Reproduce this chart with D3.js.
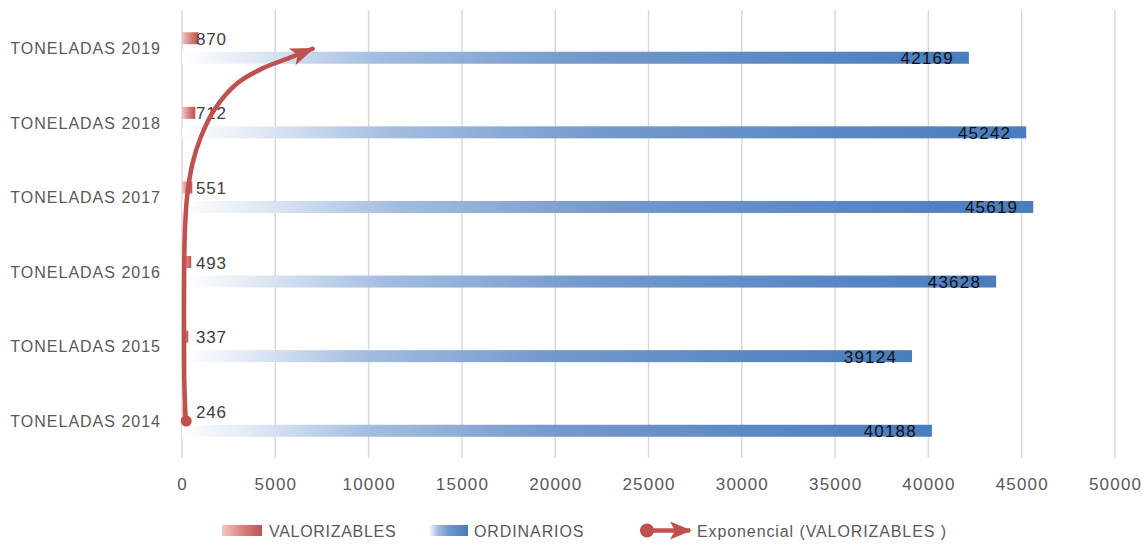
<!DOCTYPE html>
<html><head><meta charset="utf-8">
<script src="https://cdn.jsdelivr.net/npm/d3@7"></script>
<style>body{margin:0;background:#fff;} svg{display:block;}</style>
</head><body>
<svg id="c" width="1145" height="544"></svg>
<script>
const categories = ["TONELADAS 2019","TONELADAS 2018","TONELADAS 2017","TONELADAS 2016","TONELADAS 2015","TONELADAS 2014"];
const years = [2019,2018,2017,2016,2015,2014];
const valorizables = [870,712,551,493,337,246];
const ordinarios = [42169,45242,45619,43628,39124,40188];
const xTicks = [0,5000,10000,15000,20000,25000,30000,35000,40000,45000,50000];
const seriesNames = ["VALORIZABLES","ORDINARIOS","Exponencial (VALORIZABLES )"];
// trend curve: [year position, value]
const trendPoints = [[2014,200],[2014.5,125],[2015,110],[2016,115],[2016.5,150],[2017,270],[2017.45,560],[2017.8,1000],[2018.16,1700],[2018.52,2930],[2018.73,4340],[2018.87,5790],[2018.99,7000]];

const svg = d3.select("#c");
const red = "#c0504d", blue = "#4a7dbd", grid = "#d9d9d9", txt = "#595959";
const font = "Liberation Sans, Arial, sans-serif";
const x = d3.scaleLinear().domain([0,50000]).range([182,1115]);
const y = d3.scaleBand().domain(categories).range([10.7,458.3]);
const yc = c => y(c) + y.bandwidth()/2;
const yPos = d3.scaleLinear().domain([2014,2019]).range([yc(categories[5]), yc(categories[0])]);
const barH = 12, off = 9.75;

const defs = svg.append("defs");
const gb = defs.append("linearGradient").attr("id","gBlue").attr("x1","0").attr("x2","1").attr("y1","0").attr("y2","0");
[[0,"#ffffff"],[0.08,"#e4ecf6"],[0.25,"#a3bde0"],[0.5,"#7499cc"],[0.8,"#5887c3"],[1,"#4a7dbd"]].forEach(s=>gb.append("stop").attr("offset",s[0]).attr("stop-color",s[1]));
const gr = defs.append("linearGradient").attr("id","gRed").attr("x1","0").attr("x2","1").attr("y1","0").attr("y2","0");
[[0,"#f0c6c4"],[0.5,"#d98582"],[1,"#c0504d"]].forEach(s=>gr.append("stop").attr("offset",s[0]).attr("stop-color",s[1]));
defs.append("marker").attr("id","arrow").attr("markerUnits","userSpaceOnUse")
  .attr("viewBox","0 0 24 18").attr("markerWidth",24).attr("markerHeight",18)
  .attr("refX",22).attr("refY",9).attr("orient","auto")
  .append("path").attr("d","M0,0 L24,9 L0,18 L6,9 Z").attr("fill",red);
defs.append("marker").attr("id","arrowL").attr("markerUnits","userSpaceOnUse")
  .attr("viewBox","0 0 22 18").attr("markerWidth",22).attr("markerHeight",18)
  .attr("refX",20).attr("refY",9).attr("orient","auto")
  .append("path").attr("d","M0,0 L22,9 L0,18 L5,9 Z").attr("fill",red);

// gridlines
svg.append("g").selectAll("line").data(xTicks).join("line")
  .attr("x1",d=>x(d)).attr("x2",d=>x(d)).attr("y1",10).attr("y2",458)
  .attr("stroke",grid).attr("stroke-width",1.5);

// tick labels
svg.append("g").selectAll("text").data(xTicks).join("text")
  .attr("x",d=>x(d)+0.6).attr("y",490).attr("text-anchor","middle")
  .attr("font-family",font).attr("font-size",17)
  .attr("letter-spacing",1.2).attr("fill",txt).text(d=>d);

// category labels
svg.append("g").selectAll("text").data(categories).join("text")
  .attr("x",161).attr("y",d=>yc(d)+6).attr("text-anchor","end")
  .attr("font-family",font).attr("font-size",16)
  .attr("letter-spacing",1.0).attr("fill",txt).text(d=>d);

// blue bars
svg.append("g").selectAll("rect").data(ordinarios).join("rect")
  .attr("x",x(0)).attr("width",d=>x(d)-x(0))
  .attr("y",(d,i)=>yc(categories[i])+off-barH/2).attr("height",barH)
  .attr("fill","url(#gBlue)");
// red bars
svg.append("g").selectAll("rect").data(valorizables).join("rect")
  .attr("x",x(0)).attr("width",d=>x(d)-x(0))
  .attr("y",(d,i)=>yc(categories[i])-off-barH/2).attr("height",barH)
  .attr("fill","url(#gRed)");

// blue labels
svg.append("g").selectAll("text").data(ordinarios).join("text")
  .attr("x",d=>x(d)-15).attr("y",(d,i)=>yc(categories[i])+off+6.5)
  .attr("text-anchor","end").attr("font-family",font)
  .attr("font-size",17).attr("letter-spacing",1.2).attr("fill","#111").text(d=>d);
// red labels
svg.append("g").selectAll("text").data(valorizables).join("text")
  .attr("x",x(0)+14).attr("y",(d,i)=>yc(categories[i])-off+6.5)
  .attr("font-family",font)
  .attr("font-size",17).attr("letter-spacing",0.8).attr("fill","#404040").text(d=>d);

// trend line
const line = d3.line().x(d=>x(d[1])).y(d=>yPos(d[0])).curve(d3.curveCatmullRom.alpha(0.5));
svg.append("path").datum(trendPoints).attr("d",line).attr("fill","none")
  .attr("stroke",red).attr("stroke-width",4.5).attr("stroke-linecap","round")
  .attr("marker-end","url(#arrow)");
svg.append("circle").attr("cx",x(trendPoints[0][1])+0.5).attr("cy",yPos(trendPoints[0][0])).attr("r",5.5).attr("fill",red);

// legend
const lg = svg.append("g").attr("font-family",font).attr("font-size",16).attr("fill",txt);
lg.append("rect").attr("x",222).attr("y",525).attr("width",40).attr("height",11).attr("fill","url(#gRed)");
lg.append("text").attr("x",269).attr("y",536.5).attr("letter-spacing",0.7).text(seriesNames[0]);
lg.append("rect").attr("x",428).attr("y",525).attr("width",40).attr("height",11).attr("fill","url(#gBlue)");
lg.append("text").attr("x",474).attr("y",536.5).attr("letter-spacing",0.9).text(seriesNames[1]);
lg.append("line").attr("x1",647).attr("x2",690).attr("y1",530.5).attr("y2",530.5)
  .attr("stroke",red).attr("stroke-width",4.5).attr("marker-end","url(#arrowL)");
lg.append("circle").attr("cx",647).attr("cy",530.5).attr("r",7).attr("fill",red);
lg.append("text").attr("x",697).attr("y",536.5).attr("letter-spacing",0.9).text(seriesNames[2]);
</script>
</body></html>
